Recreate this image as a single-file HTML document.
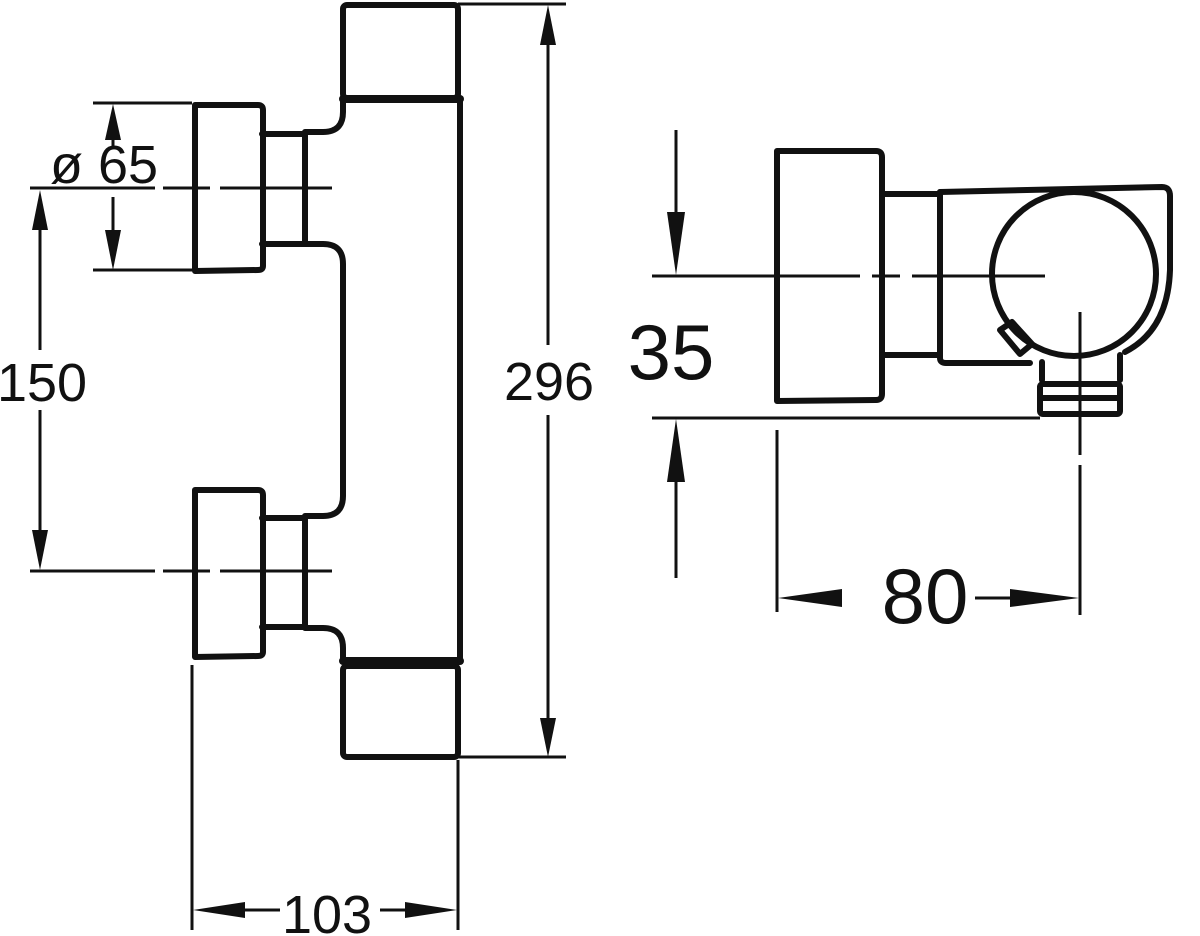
<!DOCTYPE html>
<html><head><style>body{margin:0;background:#fff}svg{display:block}text{font-family:"Liberation Sans",sans-serif;fill:#111}</style></head>
<body>
<svg width="1200" height="936" viewBox="0 0 1200 936" xmlns="http://www.w3.org/2000/svg">
<g fill="none" stroke="#111" stroke-width="6" stroke-linejoin="round" stroke-linecap="round">
<rect x="343" y="5" width="115" height="93" rx="4"/>
<rect x="343" y="666" width="115" height="91" rx="4"/>
<line x1="343" y1="99" x2="460" y2="99" stroke-width="8"/>
<line x1="343" y1="661" x2="460" y2="661" stroke-width="8"/>
<line x1="460" y1="99" x2="460" y2="661"/>
<path d="M343 99 V112 Q343 132 323 132 H305 V244 H323 Q343 244 343 264 V496 Q343 516 323 516 H305 V628 H323 Q343 628 343 648 V661"/>
<path d="M262 134 H305 M262 244 H305 M262 518 H305 M262 627 H305"/>
<path d="M195 105 H258 Q263 105 263 110 V266 Q263 270 258 270 L195 271 Z"/>
<path d="M195 490 H258 Q263 490 263 495 V652 Q263 656 258 656 L195 657 Z"/>
<path d="M777 151 H876 Q882 151 882 157 V394 Q882 400 876 400 L777 401 Z"/>
<path d="M882 194 H940 M882 355 H940"/>
<path d="M940 192 V358 Q940 363 946 363 H1030"/>
<path d="M940 192 L1162 187 Q1170 187 1170 196 V270 Q1168 330 1125 352"/>
<circle cx="1074" cy="274" r="82"/>
<path d="M1000 330 L1012 322 L1032 344 L1020 354 Z"/>
<path d="M1042 362 V380 M1120 355 V380"/>
<rect x="1040" y="384" width="80" height="30" rx="3"/>
<line x1="1042" y1="398" x2="1118" y2="398"/>
</g>
<g stroke="#111" stroke-width="3" fill="none">
<path d="M30 188 H155 M163 188 H210 M220 188 H332"/>
<path d="M30 571 H155 M163 571 H210 M220 571 H332"/>
<path d="M652 276 H860 M872 276 H900 M912 276 H1045"/>
<path d="M1080 312 V455"/>
<path d="M1080 465 V615"/>
<path d="M93 103 H192 M93 270 H192"/>
<path d="M458 4 H566 M458 757 H566"/>
<path d="M652 418 H1040"/>
<path d="M777 430 V612"/>
<path d="M192 665 V930 M458 760 V930"/>
<path d="M548 40 V345 M548 415 V720"/>
<path d="M40 225 V350 M40 410 V535"/>
<path d="M113 138 V148 M113 197 V232"/>
<path d="M676 130 V215 M676 480 V578"/>
<path d="M815 598 H842 M975 598 H1042"/>
<path d="M230 910 H280 M380 910 H420"/>
</g>
<g fill="#111">
<polygon points="548,5 540,45 556,45"/>
<polygon points="548,757 540,718 556,718"/>
<polygon points="40,190 32,230 48,230"/>
<polygon points="40,570 32,530 48,530"/>
<polygon points="113,104 105,140 121,140"/>
<polygon points="113,270 105,230 121,230"/>
<polygon points="676,275 667,212 685,212"/>
<polygon points="676,419 667,482 685,482"/>
<polygon points="778,598 842,589 842,607"/>
<polygon points="1079,598 1010,589 1010,607"/>
<polygon points="193,910 245,902 245,918"/>
<polygon points="457,910 405,902 405,918"/>
</g>
<text x="549" y="400" font-size="54" text-anchor="middle">296</text>
<text x="42" y="401" font-size="54" text-anchor="middle">150</text>
<text x="104" y="183" font-size="54" text-anchor="middle">ø 65</text>
<text x="671" y="379" font-size="78" text-anchor="middle">35</text>
<text x="925" y="623" font-size="78" text-anchor="middle">80</text>
<text x="327" y="933" font-size="54" text-anchor="middle">103</text>
</svg>
</body></html>
